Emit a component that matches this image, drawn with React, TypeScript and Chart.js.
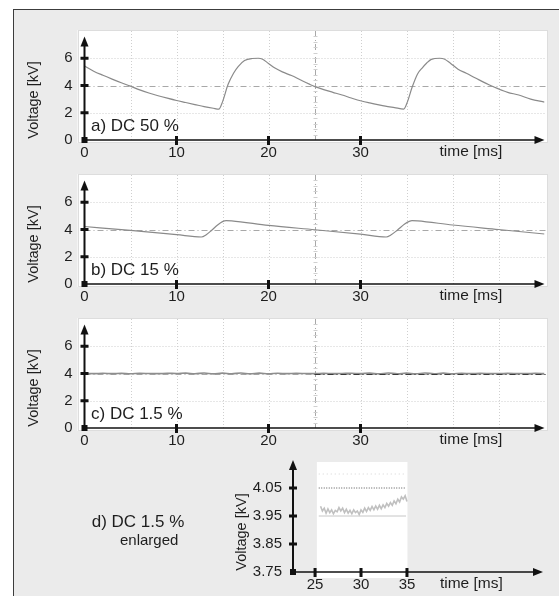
import React, { useEffect, useRef } from 'react';
import { Chart, registerables } from 'chart.js';

Chart.register(...registerables);

const FONT = '"Liberation Sans", Arial, Helvetica, sans-serif';

// ---------- data ----------
// a) DC 50 %
const timeA = [0, 1, 2, 3, 4, 5, 6, 7, 8, 9, 10, 11, 12, 13, 14, 14.6, 15.0, 15.6, 16.2, 16.7, 17.4, 18.2, 18.9, 19.3, 20.0, 20.7, 21.5, 22.5, 23.5, 24.5, 25.05, 26, 27, 28, 29, 30.1, 31, 32, 32.7, 33.7, 34.7, 35.1, 35.6, 36.2, 36.7, 37.2, 37.7, 38.6, 39.1, 39.8, 40.6, 41.5, 42.5, 43.9, 45, 46, 47.2, 48.5, 50];
const voltA = [5.43, 5.05, 4.75, 4.47, 4.2, 3.95, 3.68, 3.45, 3.25, 3.07, 2.9, 2.75, 2.6, 2.45, 2.33, 2.27, 2.8, 4.07, 4.9, 5.39, 5.83, 5.98, 6.0, 5.95, 5.62, 5.28, 5.0, 4.73, 4.4, 4.08, 3.92, 3.7, 3.5, 3.3, 3.08, 2.86, 2.72, 2.58, 2.49, 2.38, 2.27, 2.8, 3.85, 4.85, 5.28, 5.65, 5.92, 6.0, 5.95, 5.62, 5.2, 4.9, 4.55, 4.07, 3.75, 3.5, 3.3, 3.0, 2.78];

// b) DC 15 %
const timeB = [0, 5, 10, 12.7, 13.2, 13.8, 14.5, 15.0, 15.4, 16, 20, 25.05, 30, 32.8, 33.3, 34, 34.8, 35.3, 35.6, 36.2, 40, 45, 50];
const voltB = [4.22, 3.93, 3.62, 3.45, 3.6, 3.93, 4.35, 4.58, 4.65, 4.63, 4.3, 3.98, 3.66, 3.45, 3.6, 3.95, 4.4, 4.6, 4.65, 4.63, 4.33, 4.0, 3.67];

// c) DC 1.5 %
const timeC = [0, 1, 2, 3, 4, 5, 6, 7, 8, 9, 10, 11, 12, 13, 14, 15, 16, 17, 18, 19, 20, 21, 22, 23, 24, 25, 26, 27, 28, 29, 30, 31, 32, 33, 34, 35, 36, 37, 38, 39, 40, 41, 42, 43, 44, 45, 46, 47, 48, 49, 50];
const voltC = [4.01, 3.99, 4.02, 3.99, 4.01, 3.98, 4.01, 4.0, 3.99, 4.02, 4.0, 4.03, 3.98, 4.04, 3.97, 4.03, 3.98, 4.04, 3.97, 4.03, 3.98, 4.02, 3.99, 4.01, 4.0, 3.99, 4.01, 3.99, 4.0, 4.02, 3.99, 4.03, 3.97, 4.04, 3.98, 4.03, 3.97, 4.04, 3.98, 4.03, 3.98, 4.02, 3.99, 4.01, 4.0, 3.99, 4.01, 4.0, 3.99, 4.01, 4.0];

// d) DC 1.5 % enlarged
const timeD = [25.6, 25.8, 26.0, 26.2, 26.4, 26.6, 26.8, 27.0, 27.2, 27.4, 27.6, 27.8, 28.0, 28.2, 28.4, 28.6, 28.8, 29.0, 29.2, 29.4, 29.6, 29.8, 30.0, 30.2, 30.4, 30.6, 30.8, 31.0, 31.2, 31.4, 31.6, 31.8, 32.0, 32.2, 32.4, 32.6, 32.8, 33.0, 33.2, 33.4, 33.6, 33.8, 34.0, 34.2, 34.4, 34.6, 34.8, 35.0];
const voltD = [3.985, 3.968, 3.978, 3.960, 3.975, 3.962, 3.972, 3.958, 3.970, 3.965, 3.980, 3.968, 3.978, 3.962, 3.974, 3.960, 3.970, 3.958, 3.972, 3.962, 3.968, 3.955, 3.972, 3.963, 3.978, 3.966, 3.980, 3.970, 3.984, 3.972, 3.986, 3.974, 3.988, 3.976, 3.990, 3.980, 3.995, 3.985, 3.998, 3.988, 4.004, 3.994, 4.010, 4.000, 4.018, 4.010, 4.022, 4.002];
const refTimeD = [25.4, 34.9];
const refTopD = [4.1, 4.1];
const refUpperD = [4.05, 4.05];
const refLowerD = [3.95, 3.95];

// ticks / labels
const mainXTicks = [0, 10, 20, 30];
const mainYTicks = [0, 2, 4, 6];
const mainGridTimes = [5, 10, 15, 20, 30, 35, 40, 45];
const mainGridVolts = [2, 6];
const enlargedXTicks = [25, 30, 35];
const enlargedYTicks = [3.75, 3.85, 3.95, 4.05];
const panelLabels = ['a) DC 50 %', 'b) DC 15 %', 'c) DC 1.5 %'];
const enlargedLabel = ['d) DC 1.5 %', 'enlarged'];
const yTitle = 'Voltage [kV]';
const xTitle = 'time [ms]';

const TEXT = '#1e1e1e';
const TICK_FONT = { family: FONT, size: 15 };

function toPts(ts: number[], vs: number[]) {
  return ts.map((t, i) => ({ x: t, y: vs[i] }));
}

function hLine(ctx: CanvasRenderingContext2D, x1: number, x2: number, y: number) {
  ctx.beginPath();
  ctx.moveTo(x1, y);
  ctx.lineTo(x2, y);
  ctx.stroke();
}
function vLine(ctx: CanvasRenderingContext2D, x: number, y1: number, y2: number) {
  ctx.beginPath();
  ctx.moveTo(x, y1);
  ctx.lineTo(x, y2);
  ctx.stroke();
}

function drawAxes(chart: any, xTicks: number[], yTicks: number[], yArrowValue: number) {
  const { ctx, chartArea: ca } = chart;
  const xs = chart.scales.x;
  const ys = chart.scales.y;
  const ax = ca.left;
  const ay = ca.bottom;
  ctx.save();
  ctx.setLineDash([]);
  ctx.strokeStyle = '#111';
  ctx.fillStyle = '#111';
  const yTop = ys.getPixelForValue(yArrowValue);
  ctx.lineWidth = 2;
  vLine(ctx, ax, ay + 1, yTop + 6);
  ctx.beginPath();
  ctx.moveTo(ax, yTop);
  ctx.lineTo(ax - 4, yTop + 10);
  ctx.lineTo(ax + 4, yTop + 10);
  ctx.closePath();
  ctx.fill();
  const xEnd = ca.right;
  ctx.lineWidth = 1.5;
  hLine(ctx, ax, xEnd - 6, ay);
  ctx.beginPath();
  ctx.moveTo(xEnd, ay);
  ctx.lineTo(xEnd - 10, ay - 4);
  ctx.lineTo(xEnd - 10, ay + 4);
  ctx.closePath();
  ctx.fill();
  yTicks.forEach((v, i) => {
    const py = ys.getPixelForValue(v);
    if (i === 0) return;
    ctx.fillRect(ax - 4, py - 1.5, 8, 3);
  });
  xTicks.forEach((t) => {
    const px = xs.getPixelForValue(t);
    if (Math.abs(px - ax) < 1) return;
    ctx.fillRect(px - 1.5, ay - 4, 3, 9);
  });
  ctx.fillRect(ax - 3, ay - 3, 6, 6);
  ctx.restore();
}

function drawYTitle(ctx: CanvasRenderingContext2D, cx: number, cy: number) {
  ctx.save();
  ctx.translate(cx, cy);
  ctx.rotate(-Math.PI / 2);
  ctx.fillStyle = TEXT;
  ctx.font = `14.5px ${FONT}`;
  ctx.textAlign = 'center';
  ctx.textBaseline = 'middle';
  ctx.fillText(yTitle, 0, 0);
  ctx.restore();
}

function mainPlugin(label: string, centerColor: string) {
  return {
    id: 'scopePanel',
    beforeDraw(chart: any) {
      const { ctx, chartArea: ca } = chart;
      ctx.save();
      ctx.fillStyle = '#ffffff';
      ctx.fillRect(ca.left - 7, ca.top - 1, ca.right - ca.left + 10, ca.bottom - ca.top + 4);
      ctx.strokeStyle = '#dddddd';
      ctx.lineWidth = 1;
      ctx.strokeRect(Math.round(ca.left - 7) + 0.5, Math.round(ca.top - 1) + 0.5, ca.right - ca.left + 9, ca.bottom - ca.top + 3);
      ctx.restore();
    },
    beforeDatasetsDraw(chart: any) {
      const { ctx, chartArea: ca } = chart;
      const xs = chart.scales.x;
      const ys = chart.scales.y;
      ctx.save();
      ctx.lineWidth = 1;
      ctx.strokeStyle = '#cfcfcf';
      ctx.setLineDash([1, 2]);
      mainGridTimes.forEach((t) => {
        const px = Math.round(xs.getPixelForValue(t)) + 0.5;
        vLine(ctx, px, ca.top, ca.bottom);
      });
      mainGridVolts.forEach((v) => {
        const py = Math.round(ys.getPixelForValue(v)) + 0.5;
        hLine(ctx, ca.left, ca.right + 2, py);
      });
      ctx.strokeStyle = '#a8a8a8';
      ctx.setLineDash([6, 3, 1, 3]);
      const cx = Math.round(xs.getPixelForValue(25)) + 0.5;
      const cy = Math.round(ys.getPixelForValue(4)) + 0.5;
      vLine(ctx, cx, ca.top, ca.bottom);
      hLine(ctx, ca.left, ca.right + 2, cy);
      ctx.setLineDash([]);
      ctx.strokeStyle = '#d0d0d0';
      for (let v = 0.4; v < 8; v += 0.4) {
        const py = Math.round(ys.getPixelForValue(v)) + 0.5;
        hLine(ctx, cx - 2, cx + 2, py);
      }
      ctx.restore();
    },
    afterDatasetsDraw(chart: any) {
      const { ctx, chartArea: ca } = chart;
      const xs = chart.scales.x;
      const ys = chart.scales.y;
      if (centerColor) {
        ctx.save();
        ctx.strokeStyle = centerColor;
        ctx.lineWidth = 1;
        ctx.setLineDash([6, 3, 1, 3]);
        const cy = Math.round(ys.getPixelForValue(4)) + 0.5;
        hLine(ctx, xs.getPixelForValue(25), ca.right + 2, cy);
        ctx.restore();
      }
      drawAxes(chart, mainXTicks, mainYTicks, 7.6);
      ctx.save();
      ctx.fillStyle = TEXT;
      ctx.font = `17px ${FONT}`;
      ctx.textAlign = 'left';
      ctx.textBaseline = 'alphabetic';
      ctx.fillText(label, ca.left + 6.5, ca.bottom - 9.5);
      ctx.font = `15.5px ${FONT}`;
      ctx.textAlign = 'center';
      ctx.textBaseline = 'top';
      ctx.fillText(xTitle, xs.getPixelForValue(42), ca.bottom + 4);
      ctx.restore();
      drawYTitle(ctx, 20, ca.bottom - 40);
    },
  };
}

function mainConfig(label: string, times: number[], volts: number[], lineColor: string, lineWidth: number, centerColor: string) {
  return {
    type: 'line',
    data: {
      datasets: [
        {
          data: toPts(times, volts),
          borderColor: lineColor,
          borderWidth: lineWidth,
          pointRadius: 0,
          cubicInterpolationMode: 'monotone',
          fill: false,
        },
      ],
    },
    options: {
      responsive: false,
      animation: false,
      devicePixelRatio: 1,
      layout: { padding: { left: 0, right: 14.5, top: 9, bottom: 0 } },
      plugins: { legend: { display: false }, tooltip: { enabled: false } },
      scales: {
        x: {
          type: 'linear',
          min: 0,
          max: 50,
          grid: { display: false, drawTicks: false },
          border: { display: false },
          afterBuildTicks: (s: any) => {
            s.ticks = mainXTicks.map((v) => ({ value: v }));
          },
          afterFit: (s: any) => {
            s.height = 22;
          },
          ticks: { autoSkip: false, maxRotation: 0, padding: 4, color: TEXT, font: TICK_FONT, callback: (v: any) => String(v) },
        },
        y: {
          type: 'linear',
          min: 0,
          max: 8,
          grid: { display: false, drawTicks: false },
          border: { display: false },
          afterBuildTicks: (s: any) => {
            s.ticks = mainYTicks.map((v) => ({ value: v }));
          },
          afterFit: (s: any) => {
            s.width = 70.5;
          },
          ticks: { padding: 12, color: TEXT, font: TICK_FONT, callback: (v: any) => String(v) },
        },
      },
    },
    plugins: [mainPlugin(label, centerColor)],
  };
}

const enlargedPlugin = {
  id: 'enlargedPanel',
  beforeDraw(chart: any) {
    const { ctx, chartArea: ca } = chart;
    const xs = chart.scales.x;
    const ys = chart.scales.y;
    const x1 = xs.getPixelForValue(25.2);
    const x2 = xs.getPixelForValue(35.05);
    const y1 = ys.getPixelForValue(4.143);
    ctx.save();
    ctx.fillStyle = '#ffffff';
    ctx.fillRect(x1, y1, x2 - x1, ca.bottom + 6 - y1);
    ctx.restore();
  },
  afterDatasetsDraw(chart: any) {
    const { ctx, chartArea: ca } = chart;
    const xs = chart.scales.x;
    drawAxes(chart, enlargedXTicks, enlargedYTicks, 4.15);
    ctx.save();
    ctx.fillStyle = TEXT;
    ctx.font = `15.5px ${FONT}`;
    ctx.textAlign = 'center';
    ctx.textBaseline = 'top';
    ctx.fillText(xTitle, xs.getPixelForValue(42), ca.bottom + 4);
    ctx.textAlign = 'left';
    ctx.textBaseline = 'alphabetic';
    ctx.font = `17px ${FONT}`;
    ctx.fillText(enlargedLabel[0], 77.7, 87);
    ctx.font = `15px ${FONT}`;
    ctx.fillText(enlargedLabel[1], 106, 105);
    ctx.restore();
    drawYTitle(ctx, 228, 92);
  },
};

const enlargedConfig = {
  type: 'line',
  data: {
    datasets: [
      { data: toPts(refTimeD, refTopD), borderColor: '#d4d4d4', borderWidth: 1, borderDash: [1, 3], pointRadius: 0 },
      { data: toPts(refTimeD, refUpperD), borderColor: '#555555', borderWidth: 1, borderDash: [1, 1.5], pointRadius: 0 },
      { data: toPts(refTimeD, refLowerD), borderColor: '#c6c6c6', borderWidth: 1, pointRadius: 0 },
      { data: toPts(timeD, voltD), borderColor: '#c0c0c0', borderWidth: 1.6, pointRadius: 0 },
    ],
  },
  options: {
    responsive: false,
    animation: false,
    devicePixelRatio: 1,
    layout: { padding: { left: 0, right: 16, top: 16, bottom: 0 } },
    plugins: { legend: { display: false }, tooltip: { enabled: false } },
    scales: {
      x: {
        type: 'linear',
        min: 22.6,
        max: 49.8,
        grid: { display: false, drawTicks: false },
        border: { display: false },
        afterBuildTicks: (s: any) => {
          s.ticks = enlargedXTicks.map((v) => ({ value: v }));
        },
        afterFit: (s: any) => {
          s.height = 24;
        },
        ticks: { autoSkip: false, maxRotation: 0, padding: 4, color: TEXT, font: TICK_FONT, callback: (v: any) => String(v) },
      },
      y: {
        type: 'linear',
        min: 3.75,
        max: 4.15,
        grid: { display: false, drawTicks: false },
        border: { display: false },
        afterBuildTicks: (s: any) => {
          s.ticks = enlargedYTicks.map((v) => ({ value: v }));
        },
        afterFit: (s: any) => {
          s.width = 279;
        },
        ticks: { padding: 11, color: TEXT, font: TICK_FONT, callback: (v: any) => Number(v).toFixed(2) },
      },
    },
  },
  plugins: [enlargedPlugin],
};

function ChartCanvas({ config, left, top, width, height }: { config: any; left: number; top: number; width: number; height: number }) {
  const ref = useRef<HTMLCanvasElement | null>(null);
  useEffect(() => {
    if (!ref.current) return;
    const chart = new Chart(ref.current, config);
    return () => chart.destroy();
  }, [config]);
  return <canvas ref={ref} width={width} height={height} style={{ position: 'absolute', left, top, width, height }} />;
}

const configA = mainConfig(panelLabels[0], timeA, voltA, '#8a8a8a', 1.2, '');
const configB = mainConfig(panelLabels[1], timeB, voltB, '#8a8a8a', 1.2, '');
const configC = mainConfig(panelLabels[2], timeC, voltC, '#8e8e8e', 1.6, '#3a3a3a');

export default function App() {
  return (
    <div style={{ position: 'absolute', left: 0, top: 0, width: 559, height: 596, background: '#ffffff', overflow: 'hidden' }}>
      <div
        style={{
          position: 'absolute',
          left: 13,
          top: 9,
          width: 560,
          height: 600,
          background: '#ebebeb',
          borderLeft: '1px solid #3c3c3c',
          borderTop: '1px solid #3c3c3c',
        }}
      />
      <ChartCanvas config={configA} left={14} top={10} width={545} height={152} />
      <ChartCanvas config={configB} left={14} top={154} width={545} height={152} />
      <ChartCanvas config={configC} left={14} top={298} width={545} height={152} />
      <ChartCanvas config={enlargedConfig} left={14} top={440} width={545} height={156} />
    </div>
  );
}
